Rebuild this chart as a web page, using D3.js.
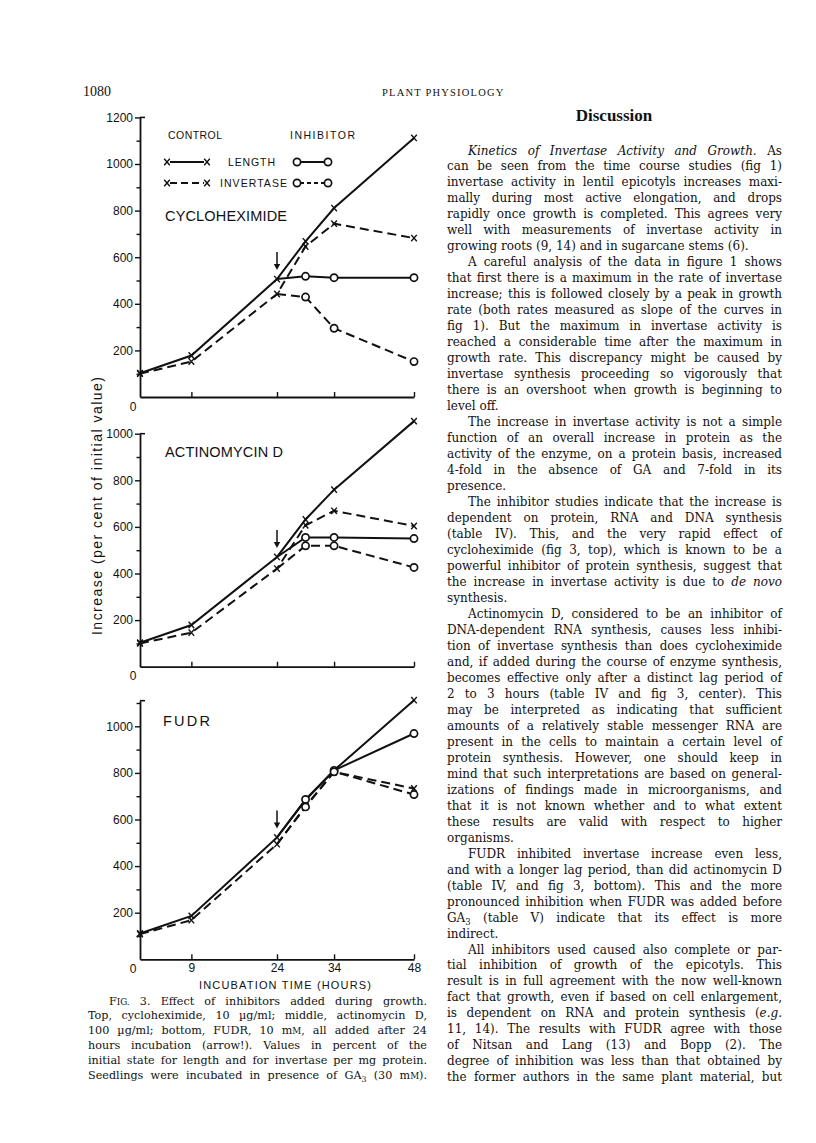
<!DOCTYPE html>
<html><head><meta charset="utf-8">
<script src="https://cdn.jsdelivr.net/npm/d3@7"></script>
<style>
html,body{margin:0;padding:0;background:#fff;}
svg{display:block;}
</style></head><body>
<svg id="page" width="816" height="1143"></svg>
<script>
// ---------- chart data ----------
const hours = [0, 9, 24, 29, 34, 48];
const inhibitorHours = [24, 29, 34, 48];
const xTickValues = [9, 24, 34, 48];
const panelNames = ["CYCLOHEXIMIDE", "ACTINOMYCIN D", "FUDR"];
const yMaxima = [1200, 1000, 1110];

const cycControlLength    = [102, 178, 506, 668, 811, 1112];
const cycControlInvertase = [100, 152, 442, 646, 744, 682];
const cycInhibLength      = [506, 518, 512, 512];
const cycInhibInvertase   = [442, 429, 295, 152];

const actControlLength    = [103, 179, 471, 632, 760, 1054];
const actControlInvertase = [100, 146, 421, 607, 669, 604];
const actInhibLength      = [471, 555, 555, 550];
const actInhibInvertase   = [421, 519, 519, 426];

const fudrControlLength    = [111, 186, 523, 683, 811, 1112];
const fudrControlInvertase = [108, 168, 494, 657, 804, 733];
const fudrInhibLength      = [523, 686, 811, 969];
const fudrInhibInvertase   = [494, 654, 805, 707];

const legendHeads = ["CONTROL", "INHIBITOR"];
const legendItems = ["LENGTH", "INVERTASE"];
const xAxisTitle = "INCUBATION TIME (HOURS)";
const yAxisTitle = "Increase (per cent of initial value)";

// ---------- page text ----------
const bodyLines = [
">*Kinetics of Invertase Activity and Growth.* As",
"can be seen from the time course studies (fig 1)",
"invertase activity in lentil epicotyls increases maxi-",
"mally during most active elongation, and drops",
"rapidly once growth is completed. This agrees very",
"well with measurements of invertase activity in",
"growing roots (9, 14) and in sugarcane stems (6).|",
">A careful analysis of the data in figure 1 shows",
"that first there is a maximum in the rate of invertase",
"increase; this is followed closely by a peak in growth",
"rate (both rates measured as slope of the curves in",
"fig 1). But the maximum in invertase activity is",
"reached a considerable time after the maximum in",
"growth rate. This discrepancy might be caused by",
"invertase synthesis proceeding so vigorously that",
"there is an overshoot when growth is beginning to",
"level off.|",
">The increase in invertase activity is not a simple",
"function of an overall increase in protein as the",
"activity of the enzyme, on a protein basis, increased",
"4-fold in the absence of GA and 7-fold in its",
"presence.|",
">The inhibitor studies indicate that the increase is",
"dependent on protein, RNA and DNA synthesis",
"(table IV). This, and the very rapid effect of",
"cycloheximide (fig 3, top), which is known to be a",
"powerful inhibitor of protein synthesis, suggest that",
"the increase in invertase activity is due to *de novo*",
"synthesis.|",
">Actinomycin D, considered to be an inhibitor of",
"DNA-dependent RNA synthesis, causes less inhibi-",
"tion of invertase synthesis than does cycloheximide",
"and, if added during the course of enzyme synthesis,",
"becomes effective only after a distinct lag period of",
"2 to 3 hours (table IV and fig 3, center). This",
"may be interpreted as indicating that sufficient",
"amounts of a relatively stable messenger RNA are",
"present in the cells to maintain a certain level of",
"protein synthesis. However, one should keep in",
"mind that such interpretations are based on general-",
"izations of findings made in microorganisms, and",
"that it is not known whether and to what extent",
"these results are valid with respect to higher",
"organisms.|",
">FUDR inhibited invertase increase even less,",
"and with a longer lag period, than did actinomycin D",
"(table IV, and fig 3, bottom). This and the more",
"pronounced inhibition when FUDR was added before",
"GA_3 (table V) indicate that its effect is more",
"indirect.|",
">All inhibitors used caused also complete or par-",
"tial inhibition of growth of the epicotyls. This",
"result is in full agreement with the now well-known",
"fact that growth, even if based on cell enlargement,",
"is dependent on RNA and protein synthesis (*e.g.*",
"11, 14). The results with FUDR agree with those",
"of Nitsan and Lang (13) and Bopp (2). The",
"degree of inhibition was less than that obtained by",
"the former authors in the same plant material, but"
];
const captionLines = [
">F{ig.} 3. Effect of inhibitors added during growth.",
"Top, cycloheximide, 10 µg/ml; middle, actinomycin D,",
"100 µg/ml; bottom, FUDR, 10 m{m}, all added after 24",
"hours incubation (arrow!). Values in percent of the",
"initial state for length and for invertase per mg protein.",
"Seedlings were incubated in presence of GA_3 (30 m{m})."
];

// ---------- drawing ----------
const svg = d3.select("#page");
svg.append("rect").attr("width", 816).attr("height", 1143).attr("fill", "#fff");
const INK = "#111";
const SANS = "'Liberation Sans', Arial, sans-serif";
const SERIF = "'Liberation Serif', 'Times New Roman', serif";
const BODY_SERIF = "'DejaVu Serif', 'Liberation Serif', serif";

// header
svg.append("text").attr("x", 83).attr("y", 96).attr("font-family", SERIF).attr("font-size", 14)
  .attr("fill", INK).text("1080");
svg.append("text").attr("x", 382).attr("y", 96).attr("font-family", SERIF).attr("font-size", 10.5)
  .attr("letter-spacing", 1.2).attr("fill", INK).text("PLANT PHYSIOLOGY");
svg.append("text").attr("x", 614).attr("y", 121).attr("text-anchor", "middle").attr("font-family", SERIF)
  .attr("font-size", 17).attr("font-weight", "bold").attr("fill", INK).text("Discussion");

// text line renderer with simple markup
function renderLine(g, raw, x, y, width, fontSize, family) {
  let indent = 0, justify = true, s = raw;
  if (s.startsWith(">")) { indent = 21; s = s.slice(1); }
  if (s.endsWith("|")) { justify = false; s = s.slice(0, -1); }
  const t = g.append("text").attr("x", x + indent).attr("y", y)
    .attr("font-family", family).attr("font-size", fontSize).attr("fill", INK)
    .style("white-space", "pre");
  const parts = s.split(/(\*[^*]+\*|_\d|\{[^}]+\})/).filter(p => p.length);
  let shifted = false;
  parts.forEach(p => {
    let ts;
    if (p.startsWith("*")) {
      ts = t.append("tspan").attr("font-style", "italic").text(p.slice(1, -1));
    } else if (p.startsWith("_")) {
      ts = t.append("tspan").attr("font-size", fontSize * 0.7).attr("dy", 3).text(p.slice(1));
      shifted = true; return;
    } else if (p.startsWith("{")) {
      ts = t.append("tspan").attr("font-size", fontSize * 0.78).text(p.slice(1, -1).toUpperCase());
    } else {
      ts = t.append("tspan").text(p);
    }
    if (shifted) { ts.attr("dy", -3); shifted = false; }
  });
  const nat = t.node().getComputedTextLength();
  const avail = width - indent;
  if (nat > avail) {
    t.attr("textLength", avail).attr("lengthAdjust", "spacingAndGlyphs");
  } else if (justify) {
    const spaces = (s.match(/ /g) || []).length;
    if (spaces > 0) t.style("word-spacing", ((avail - nat) / spaces) + "px");
  }
}

const body = svg.append("g");
bodyLines.forEach((l, i) => renderLine(body, l, 447, 154.5 + i * 15.98, 335, 12, BODY_SERIF));
const cap = svg.append("g");
captionLines.forEach((l, i) => renderLine(cap, l, 88, 1004.5 + i * 14.9, 339, 11.2, BODY_SERIF));

// ---------- charts ----------
const x = d3.scaleLinear().domain([0, 48]).range([140, 414]);
const PX_PER_UNIT = 0.233;
const bases = [397, 666.7, 959.3];
const panelData = [
  [cycControlLength, cycControlInvertase, cycInhibLength, cycInhibInvertase],
  [actControlLength, actControlInvertase, actInhibLength, actInhibInvertase],
  [fudrControlLength, fudrControlInvertase, fudrInhibLength, fudrInhibInvertase]
];
const titlePos = [[165, 221, 122], [165, 457, 118], [163, 726, 47]];

function xMark(g, cx, cy) {
  g.append("path").attr("d", `M${cx-2.8},${cy-3.2}L${cx+2.8},${cy+3.2}M${cx-2.8},${cy+3.2}L${cx+2.8},${cy-3.2}`)
    .attr("stroke", INK).attr("stroke-width", 1.4).attr("fill", "none");
}
function oMark(g, cx, cy) {
  g.append("circle").attr("cx", cx).attr("cy", cy).attr("r", 3.6)
    .attr("fill", "#fff").attr("stroke", INK).attr("stroke-width", 1.7);
}
const DASH = "9,5";

panelNames.forEach((name, pi) => {
  const yMax = yMaxima[pi];
  const base = bases[pi];
  const y = d3.scaleLinear().domain([0, yMax]).range([base, base - yMax * PX_PER_UNIT]);
  const g = svg.append("g");

  // y axis
  const topTick = Math.floor(yMax / 100) * 100;
  const ya = g.append("g").attr("transform", "translate(140,0)")
    .call(d3.axisLeft(y).tickValues(d3.range(100, topTick + 1, 100))
      .tickFormat(d => d % 200 === 0 ? d : "").tickSize(5).tickSizeOuter(0).tickPadding(2));
  ya.select(".domain").attr("stroke", INK).attr("stroke-width", 1.8);
  ya.selectAll(".tick line").attr("stroke", INK).attr("stroke-width", 1.4)
    .attr("x2", d => d % 200 === 0 ? -5 : -3.5);
  ya.selectAll(".tick text").attr("font-family", SANS).attr("font-size", 12).attr("fill", INK);
  g.append("line").attr("x1", 140).attr("x2", 145).attr("y1", y(yMax)).attr("y2", y(yMax))
    .attr("stroke", INK).attr("stroke-width", 1.6);

  // x axis
  const xa = g.append("g").attr("transform", `translate(0,${base})`)
    .call(d3.axisBottom(x).tickValues(xTickValues).tickSize(-5).tickSizeOuter(0).tickPadding(4)
      .tickFormat(d => pi === 2 ? d : ""));
  xa.select(".domain").attr("stroke", INK).attr("stroke-width", 1.8);
  xa.selectAll(".tick line").attr("stroke", INK).attr("stroke-width", 1.4);
  xa.selectAll(".tick text").attr("font-family", SANS).attr("font-size", 12).attr("fill", INK);
  g.append("text").attr("x", 133).attr("y", base + 13.5).attr("text-anchor", "middle")
    .attr("font-family", SANS).attr("font-size", 12).attr("fill", INK).text("0");

  // title
  const [tx, ty, tw] = titlePos[pi];
  g.append("text").attr("x", tx).attr("y", ty).attr("font-family", SANS).attr("font-size", 14.5)
    .attr("textLength", tw).attr("lengthAdjust", "spacing").attr("fill", INK).text(name);

  // series
  const [cL, cI, iL, iI] = panelData[pi];
  const line = d3.line().x(d => x(d[0])).y(d => y(d[1]));
  const series = [
    {h: hours, v: cL, dash: null, mark: xMark},
    {h: hours, v: cI, dash: DASH, mark: xMark},
    {h: inhibitorHours, v: iL, dash: null, mark: oMark},
    {h: inhibitorHours, v: iI, dash: DASH, mark: oMark}
  ];
  series.forEach(s => {
    const pts = s.h.map((h, i) => [h, s.v[i]]);
    g.append("path").attr("d", line(pts)).attr("fill", "none").attr("stroke", INK)
      .attr("stroke-width", 2).attr("stroke-dasharray", s.dash);
  });
  series.forEach(s => {
    s.h.forEach((h, i) => {
      if (s.mark === oMark && h === 24) return;
      s.mark(g, x(h), y(s.v[i]));
    });
  });

  // arrow at addition time (24 h)
  const ax = x(24), ay = y(cL[2]) - 9;
  g.append("line").attr("x1", ax).attr("x2", ax).attr("y1", ay - 18).attr("y2", ay - 4)
    .attr("stroke", INK).attr("stroke-width", 1.5);
  g.append("path").attr("d", `M${ax-3.2},${ay-6}L${ax+3.2},${ay-6}L${ax},${ay}Z`).attr("fill", INK);

  // legend (top panel)
  if (pi === 0) {
    const lf = {family: SANS, size: 10.5};
    g.append("text").attr("x", 168).attr("y", 139).attr("font-family", lf.family).attr("font-size", lf.size)
      .attr("textLength", 54).attr("fill", INK).text(legendHeads[0]);
    g.append("text").attr("x", 290).attr("y", 139).attr("font-family", lf.family).attr("font-size", lf.size)
      .attr("textLength", 65).attr("fill", INK).text(legendHeads[1]);
    const rows = [[162, null, 228, 47], [183, "7,4", 220, 67]];
    rows.forEach((r, ri) => {
      const [ry, dash, txx, tww] = r;
      g.append("line").attr("x1", 170).attr("x2", 204).attr("y1", ry).attr("y2", ry)
        .attr("stroke", INK).attr("stroke-width", 2).attr("stroke-dasharray", dash);
      xMark(g, 167, ry); xMark(g, 207, ry);
      g.append("text").attr("x", txx).attr("y", ry + 4).attr("font-family", lf.family).attr("font-size", lf.size)
        .attr("textLength", tww).attr("fill", INK).text(legendItems[ri]);
      g.append("line").attr("x1", 300).attr("x2", 326).attr("y1", ry).attr("y2", ry)
        .attr("stroke", INK).attr("stroke-width", 2).attr("stroke-dasharray", ri ? "4,3" : null);
      oMark(g, 297, ry); oMark(g, 328, ry);
    });
  }
});

// axis titles
svg.append("text").attr("x", 285).attr("y", 989).attr("text-anchor", "middle")
  .attr("font-family", SANS).attr("font-size", 11).attr("textLength", 172).attr("lengthAdjust", "spacing")
  .attr("fill", INK).text(xAxisTitle);
svg.append("text").attr("transform", "translate(102,506) rotate(-90)").attr("text-anchor", "middle")
  .attr("font-family", SANS).attr("font-size", 14).attr("textLength", 258).attr("lengthAdjust", "spacing")
  .attr("fill", INK).text(yAxisTitle);
</script>
</body></html>
